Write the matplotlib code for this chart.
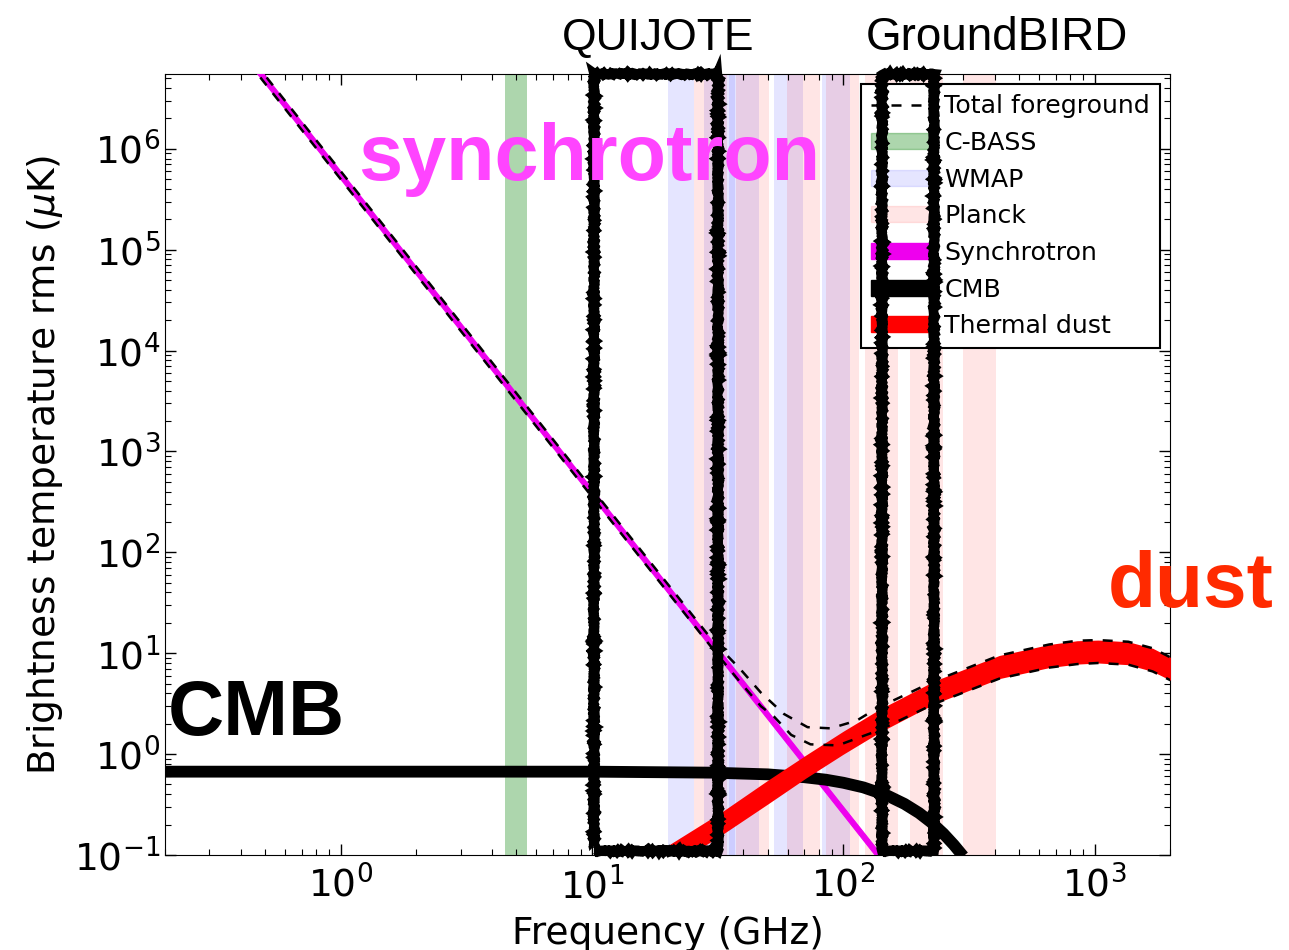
import matplotlib
matplotlib.use("Agg")
import matplotlib.pyplot as plt
from matplotlib.patches import Patch, Rectangle
from matplotlib.lines import Line2D
import matplotlib.transforms as mtransforms

# frequencies in GHz, brightness temperatures in uK
sync_freq = [0.2, 1, 10, 100, 200]
sync_lo = [8.0e7, 5.0e5, 355, 0.25, 0.028]
sync_hi = [9.6e7, 6.0e5, 426, 0.30, 0.034]

cmb_freq = [0.2, 10, 30, 50, 70, 85, 100, 120, 150, 175, 200, 225, 250, 275, 300]
cmb_temp = [0.67, 0.67, 0.655, 0.63, 0.59, 0.558, 0.52, 0.468, 0.387, 0.321,
            0.261, 0.208, 0.163, 0.126, 0.097]

dust_freq = [20, 33, 50, 71, 100, 139, 230, 417, 658, 850, 1031, 1360, 1700, 2000]
dust_lo = [0.073, 0.16, 0.32, 0.58, 1.0, 1.64, 3.15, 5.6, 7.2, 7.8, 8.0, 7.7, 6.6, 5.4]
dust_hi = [0.124, 0.27, 0.55, 0.98, 1.69, 2.77, 5.3, 9.5, 12.2, 13.3, 13.5, 13.0, 11.2, 9.1]

tot_hi_freq = [0.2, 1, 10, 30, 39, 47, 58, 72, 89, 113, 136, 230, 417, 658, 850, 1031, 1360, 1700, 2000]
tot_hi = [9.6e7, 6.0e5, 426, 13.6, 6.9, 4.06, 2.5, 1.85, 1.8, 2.15, 2.85, 5.3, 9.5, 12.2, 13.3, 13.5, 13.0, 11.2, 9.1]
tot_lo_freq = [0.2, 1, 10, 30, 39, 47, 53, 62, 74, 95, 139, 230, 417, 658, 850, 1031, 1360, 1700, 2000]
tot_lo = [8.0e7, 5.0e5, 355, 11.3, 5.1, 2.98, 2.35, 1.55, 1.25, 1.22, 1.73, 3.15, 5.6, 7.2, 7.8, 8.0, 7.7, 6.6, 5.4]

# experiment frequency bands (GHz)
cbass_bands = [(4.5, 5.5)]
wmap_bands = [(20, 25.5), (28, 37), (35, 46), (53, 69), (82, 106)]
planck_bands = [(25.5, 34.5), (37.4, 50.6), (59.5, 80.5), (85, 115),
                (121.5, 164.5), (184.5, 249.5), (300, 406)]

quijote_range = (10.2, 31.7)
groundbird_range = (143, 229)

fig = plt.figure(figsize=(12.89, 9.5), dpi=100)
ax = fig.add_axes([0.128, 0.1, 0.78, 0.822])
ax.set_xscale("log")
ax.set_yscale("log")

for lo, hi in cbass_bands:
    ax.axvspan(lo, hi, color="green", alpha=0.32, lw=0, zorder=1)
for lo, hi in wmap_bands:
    ax.axvspan(lo, hi, color="blue", alpha=0.1, lw=0, zorder=1)
for lo, hi in planck_bands:
    ax.axvspan(lo, hi, color="red", alpha=0.1, lw=0, zorder=1)

ax.fill_between(sync_freq, sync_lo, sync_hi, color="#ee00ee", lw=0.8,
                edgecolor="#ee00ee", zorder=3)
ax.plot(cmb_freq, cmb_temp, color="black", lw=8.5, solid_capstyle="butt", zorder=4)
ax.fill_between(dust_freq, dust_lo, dust_hi, color="red", lw=0, zorder=5)
ax.plot(tot_hi_freq, tot_hi, color="black", ls=(0, (4, 4)), lw=1.8, zorder=6)
ax.plot(tot_lo_freq, tot_lo, color="black", ls=(0, (4, 4)), lw=1.8, zorder=6)

ax.set_xlim(0.2, 2000)
ax.set_ylim(0.1, 5.5e6)

ax.tick_params(which="both", direction="in", top=True, right=True, labelsize=27)
ax.tick_params(which="major", length=8, width=1)
ax.tick_params(which="minor", length=4, width=0.8)
ax.tick_params(axis="x", pad=8)
ax.set_xlabel("Frequency (GHz)", fontsize=27, labelpad=7)
ax.set_ylabel(r"Brightness temperature rms ($\mu$K)", fontsize=27, labelpad=6)

handles = [
    Line2D([], [], color="black", ls=(0, (4, 4)), lw=1.8),
    Patch(color="green", alpha=0.32),
    Patch(color="blue", alpha=0.1),
    Patch(color="red", alpha=0.1),
    Patch(color="#ee00ee"),
    Patch(color="black"),
    Patch(color="red"),
]
labels = ["Total foreground", "C-BASS", "WMAP", "Planck", "Synchrotron", "CMB", "Thermal dust"]
leg = ax.legend(handles, labels, loc="upper right", fontsize=18.2, fancybox=False,
                framealpha=1, edgecolor="black", handlelength=2.4, handleheight=0.6,
                handletextpad=0.5, labelspacing=0.5, borderpad=0.4, borderaxespad=0.4)
leg.get_frame().set_linewidth(1.5)
leg.set_zorder(7)

# hand-drawn boxes around the two experiments
trans = mtransforms.blended_transform_factory(ax.transData, ax.transAxes)
for lo, hi in (quijote_range, groundbird_range):
    box = Rectangle((lo, 0.005), hi - lo, 0.995, transform=trans, fill=False,
                    edgecolor="black", lw=7, clip_on=False, zorder=10)
    box.set_sketch_params(scale=0.8, length=1.0, randomness=2)
    ax.add_patch(box)

fig.text(0.436, 0.947, "QUIJOTE", fontsize=32, family="Liberation Sans", va="baseline")
fig.text(0.672, 0.947, "GroundBIRD", fontsize=33, family="Liberation Sans", va="baseline")
fig.text(0.278, 0.8105, "synchrotron", fontsize=57, family="Liberation Sans",
         weight="bold", color="#ff44ff", va="baseline", zorder=11)
fig.text(0.130, 0.2263, "CMB", fontsize=56, family="Liberation Sans",
         weight="bold", color="black", va="baseline", zorder=11)
fig.text(0.859, 0.361, "dust", fontsize=56.5, family="Liberation Sans",
         weight="bold", color="#ff2a00", va="baseline", zorder=11)

fig.savefig("out.png", dpi=100)
